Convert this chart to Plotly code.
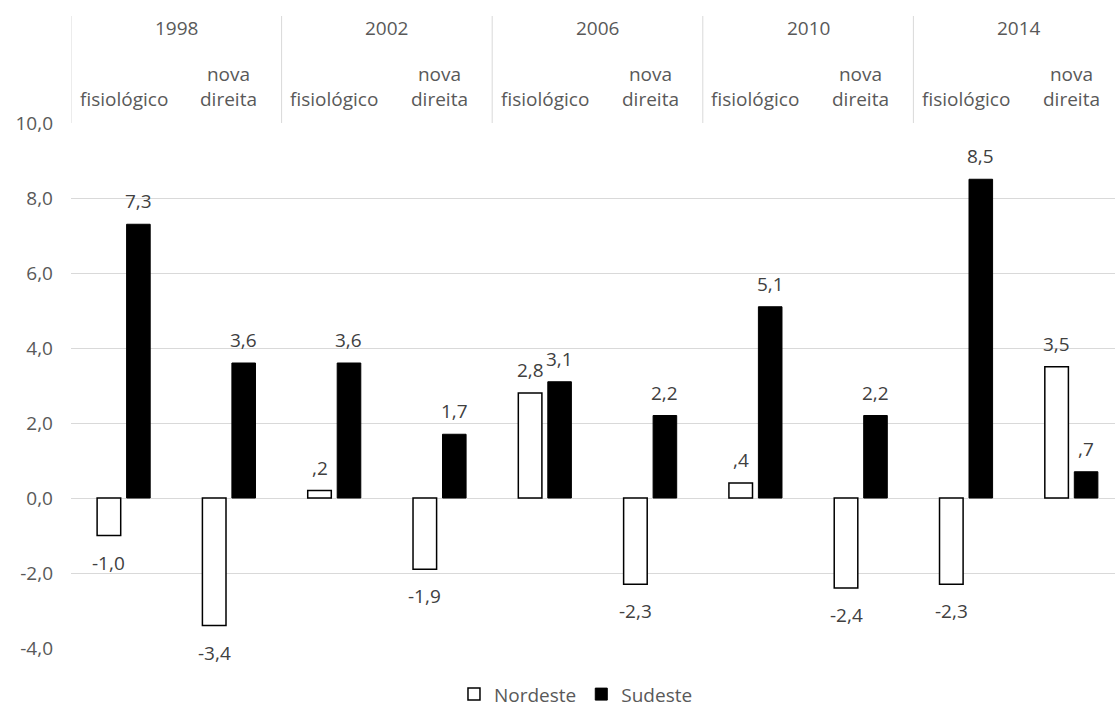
import plotly.graph_objects as go

years = ["1998", "2002", "2006", "2010", "2014"]
subcats = ["fisiológico", "nova<br>direita"]
nordeste = [-1.0, -3.4, 0.2, -1.9, 2.8, -2.3, 0.4, -2.4, -2.3, 3.5]
sudeste = [7.3, 3.6, 3.6, 1.7, 3.1, 2.2, 5.1, 2.2, 8.5, 0.7]
y_ticks = [-4, -2, 0, 2, 4, 6, 8, 10]

FONT = "Open Sans"
TXT = "#595959"
LBL = "#404040"
GRID = "#d9d9d9"
FS = 19

def fmt(v):
    s = f"{abs(v):.1f}".replace(".", ",")
    if s.startswith("0,"):
        s = s[1:]
    return ("-" if v < 0 else "") + s

n = len(nordeste)
xs = list(range(n))
BARGAP = 0.44
BARGROUPGAP = 0.2
half = (1 - BARGAP) / 4  # center offset of each bar in a group

fig = go.Figure()
fig.add_trace(go.Bar(
    x=xs, y=nordeste, name="Nordeste",
    marker=dict(color="white", line=dict(color="black", width=1.5)),
))
fig.add_trace(go.Bar(
    x=xs, y=sudeste, name="Sudeste",
    marker=dict(color="black", line=dict(color="black", width=1)),
))

annotations = []
for series, sign in ((nordeste, -1), (sudeste, 1)):
    for i, v in enumerate(series):
        annotations.append(dict(
            x=i + sign * half, y=v, xref="x", yref="y",
            text=fmt(v), showarrow=False,
            yanchor="bottom" if v >= 0 else "top",
            yshift=8 if v >= 0 else -12,
            font=dict(family=FONT, size=FS, color=LBL),
        ))

# header: years and sub-categories
for g, yr in enumerate(years):
    annotations.append(dict(
        x=2 * g + 0.5, y=1.181, xref="x", yref="paper", text=yr,
        showarrow=False, yanchor="middle",
        font=dict(family=FONT, size=FS, color=TXT)))
    for k, sc in enumerate(subcats):
        annotations.append(dict(
            x=2 * g + k, y=1.018, xref="x", yref="paper", text=sc,
            showarrow=False, yanchor="bottom",
            font=dict(family=FONT, size=FS, color=TXT)))

shapes = []
for g in range(len(years)):
    shapes.append(dict(
        type="line", xref="x", yref="paper",
        x0=2 * g - 0.5, x1=2 * g - 0.5, y0=1, y1=1.2038,
        line=dict(color=GRID, width=1)))

fig.update_layout(
    width=1115, height=707,
    margin=dict(l=71, r=0, t=123, b=59, autoexpand=False),
    paper_bgcolor="white", plot_bgcolor="white",
    barmode="group", bargap=BARGAP, bargroupgap=BARGROUPGAP,
    font=dict(family=FONT, size=FS, color=TXT),
    showlegend=True,
    legend=dict(orientation="h", x=0.4837, xanchor="center",
                yref="container", y=0.018, yanchor="middle",
                itemwidth=30,
                font=dict(family=FONT, size=FS, color=TXT)),
    annotations=annotations, shapes=shapes,
    xaxis=dict(range=[-0.5, 9.4145], showticklabels=False, showgrid=False,
               zeroline=False, showline=False, fixedrange=True),
    yaxis=dict(range=[-4, 10], tickvals=y_ticks,
               ticktext=[f"{t:.1f}".replace(".", ",") for t in y_ticks],
               showgrid=True, gridcolor=GRID, gridwidth=1,
               zeroline=True, zerolinecolor=GRID, zerolinewidth=1,
               showline=False, ticklabelstandoff=17,
               tickfont=dict(family=FONT, size=FS, color=TXT)),
)
for tr in fig.data:
    tr.cliponaxis = False

fig.write_html("out.html")
